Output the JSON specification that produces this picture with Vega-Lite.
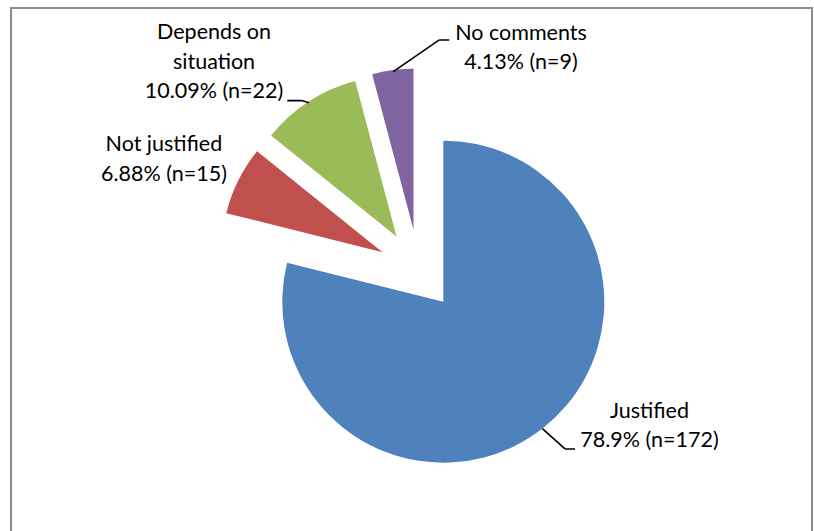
{
  "$schema": "https://vega.github.io/schema/vega-lite/v6.json",
  "width": 801,
  "height": 560,
  "autosize": {"type": "none"},
  "padding": {"left": 11, "top": 8, "right": 2, "bottom": -37},
  "background": "#ffffff",
  "view": {"stroke": "#8c8c8c", "strokeWidth": 2, "fill": "#ffffff", "strokeDash": [1361, 801, 600, 0]},
  "config": {"text": {"font": "Lato", "fontSize": 21.5, "color": "#000000", "lineHeight": 29.5, "align": "center", "baseline": "middle"}},
  "data": {
    "values": [
      {"category": "Justified", "pct": 78.9, "n": 172, "idx": 1},
      {"category": "Not justified", "pct": 6.88, "n": 15, "idx": 2},
      {"category": "Depends on situation", "pct": 10.09, "n": 22, "idx": 3},
      {"category": "No comments", "pct": 4.13, "n": 9, "idx": 4}
    ]
  },
  "transform": [
    {"stack": "pct", "groupby": [], "sort": [{"field": "idx", "order": "ascending"}], "as": ["start", "end"]},
    {"calculate": "(datum.start + datum.end) / 2", "as": "mid"},
    {"calculate": "datum.category == 'Depends on situation' ? ['Depends on', 'situation', datum.pct + '% (n=' + datum.n + ')'] : [datum.category, datum.pct + '% (n=' + datum.n + ')']", "as": "label"}
  ],
  "encoding": {
    "theta": {"field": "start", "type": "quantitative", "scale": {"domain": [0, 100], "range": [0, 6.283185307179586]}},
    "theta2": {"field": "end"},
    "color": {"field": "category", "type": "nominal", "legend": null, "scale": {"domain": ["Justified", "Not justified", "Depends on situation", "No comments"], "range": ["#4F81BD", "#C0504D", "#9BBB59", "#8064A2"]}}
  },
  "layer": [
    {"transform": [{"filter": "datum.idx == 1"}], "mark": {"type": "arc", "radius": 161, "xOffset": 31.8, "yOffset": 13.7}},
    {"transform": [{"filter": "datum.idx == 2"}], "mark": {"type": "arc", "radius": 161, "xOffset": -29, "yOffset": -35.8}},
    {"transform": [{"filter": "datum.idx == 3"}], "mark": {"type": "arc", "radius": 161, "xOffset": -15, "yOffset": -51.5}},
    {"transform": [{"filter": "datum.idx == 4"}], "mark": {"type": "arc", "radius": 161, "xOffset": 2, "yOffset": -58.2}},
    {
      "transform": [{"filter": "datum.idx == 1"}],
      "mark": {"type": "arc", "filled": false, "stroke": "#000000", "strokeWidth": 1.6, "radius": 30.4, "radius2": 0, "xOffset": 130.9, "yOffset": 140.6},
      "encoding": {"theta": {"value": 2.304}, "theta2": {"value": 2.304}, "color": {"value": "#000000"}}
    },
    {
      "transform": [{"filter": "datum.idx == 1"}],
      "mark": {"type": "arc", "filled": false, "stroke": "#000000", "strokeWidth": 1.6, "radius": 10, "radius2": 0, "xOffset": 153.5, "yOffset": 161},
      "encoding": {"theta": {"value": 1.5708}, "theta2": {"value": 1.5708}, "color": {"value": "#000000"}}
    },
    {
      "transform": [{"filter": "datum.idx == 3"}],
      "mark": {"type": "arc", "filled": false, "stroke": "#000000", "strokeWidth": 1.6, "radius": 7.6, "radius2": 0, "xOffset": -102.6, "yOffset": -185.2},
      "encoding": {"theta": {"value": 5.021}, "theta2": {"value": 5.021}, "color": {"value": "#000000"}}
    },
    {
      "transform": [{"filter": "datum.idx == 3"}],
      "mark": {"type": "arc", "filled": false, "stroke": "#000000", "strokeWidth": 1.6, "radius": 14.4, "radius2": 0, "xOffset": -109.8, "yOffset": -187.4},
      "encoding": {"theta": {"value": 4.712}, "theta2": {"value": 4.712}, "color": {"value": "#000000"}}
    },
    {
      "transform": [{"filter": "datum.idx == 4"}],
      "mark": {"type": "arc", "filled": false, "stroke": "#000000", "strokeWidth": 1.6, "radius": 55.9, "radius2": 0, "xOffset": -18.2, "yOffset": -216.3},
      "encoding": {"theta": {"value": 0.967}, "theta2": {"value": 0.967}, "color": {"value": "#000000"}}
    },
    {
      "transform": [{"filter": "datum.idx == 4"}],
      "mark": {"type": "arc", "filled": false, "stroke": "#000000", "strokeWidth": 1.6, "radius": 10, "radius2": 0, "xOffset": 27.8, "yOffset": -248},
      "encoding": {"theta": {"value": 1.5708}, "theta2": {"value": 1.5708}, "color": {"value": "#000000"}}
    },
    {
      "transform": [{"filter": "datum.idx == 1"}],
      "mark": {"type": "text", "radius": 267, "dx": 73.7, "dy": -86.75},
      "encoding": {"theta": {"field": "mid", "type": "quantitative"}, "theta2": null, "text": {"field": "label"}, "color": {"value": "#000000"}}
    },
    {
      "transform": [{"filter": "datum.idx == 2"}],
      "mark": {"type": "text", "radius": 272, "dx": -4, "dy": -21.55},
      "encoding": {"theta": {"field": "mid", "type": "quantitative"}, "theta2": null, "text": {"field": "label"}, "color": {"value": "#000000"}}
    },
    {
      "transform": [{"filter": "datum.idx == 3"}],
      "mark": {"type": "text", "radius": 285, "dx": -42.1, "dy": -15.6},
      "encoding": {"theta": {"field": "mid", "type": "quantitative"}, "theta2": null, "text": {"field": "label"}, "color": {"value": "#000000"}}
    },
    {
      "transform": [{"filter": "datum.idx == 4"}],
      "mark": {"type": "text", "radius": 210, "dx": 136.7, "dy": -46.25},
      "encoding": {"theta": {"field": "mid", "type": "quantitative"}, "theta2": null, "text": {"field": "label"}, "color": {"value": "#000000"}}
    }
  ]
}
